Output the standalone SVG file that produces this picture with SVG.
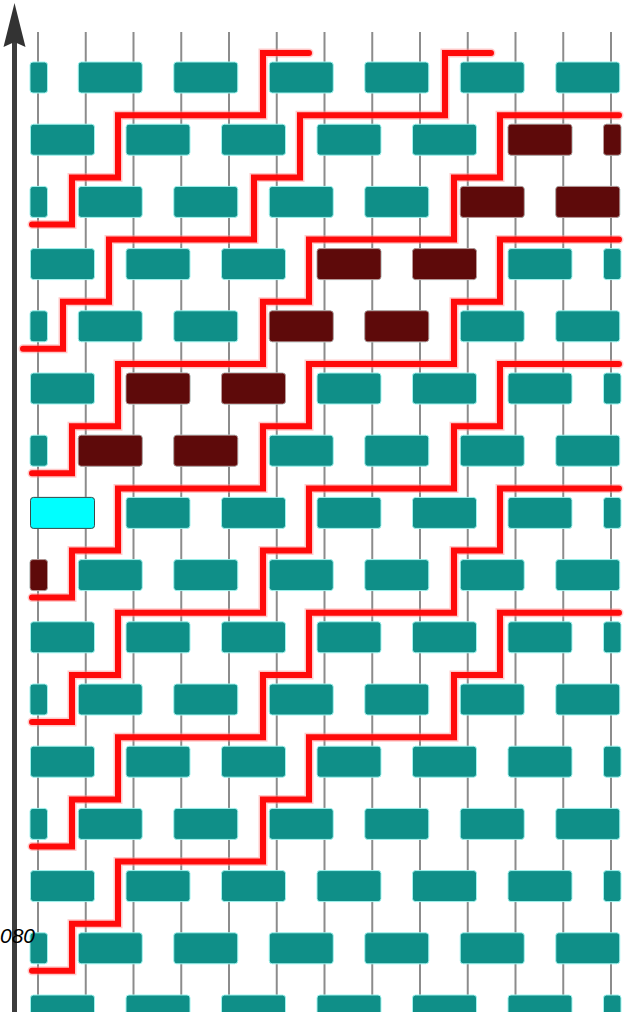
<svg xmlns="http://www.w3.org/2000/svg" xmlns:xlink="http://www.w3.org/1999/xlink" width="624" height="1012" viewBox="0 0 624 1012">
<style>
.grid line{stroke:#8c8c8c;stroke-width:2}
.t{fill:#0f8f88;stroke:#9ff3ee;stroke-width:1}
.d{fill:#5e0a0a;stroke:#c9a0a0;stroke-width:0.8}
.c{fill:#00ffff;stroke:#3a4a4a;stroke-width:1}
.halo{fill:none;stroke:#ff8a8a;stroke-width:9;stroke-opacity:0.45;stroke-linejoin:miter;stroke-linecap:round}
.red{fill:none;stroke:#ff0a0a;stroke-width:6;stroke-linejoin:miter;stroke-linecap:round}
.lbl{font-family:"Liberation Sans",Arial,sans-serif;font-style:italic;font-size:21px;fill:#000}
</style>
<defs>
<rect id="L" width="64" height="31" rx="3"/>
<rect id="S" width="17.5" height="31" rx="3"/>
<g id="even" class="t">
<use xlink:href="#S" x="30"/>
<use xlink:href="#L" x="78.25"/>
<use xlink:href="#L" x="173.75"/>
<use xlink:href="#L" x="269.25"/>
<use xlink:href="#L" x="364.75"/>
<use xlink:href="#L" x="460.25"/>
<use xlink:href="#L" x="555.75"/>
</g>
<g id="odd" class="t">
<use xlink:href="#L" x="30.5"/>
<use xlink:href="#L" x="126"/>
<use xlink:href="#L" x="221.5"/>
<use xlink:href="#L" x="317"/>
<use xlink:href="#L" x="412.5"/>
<use xlink:href="#L" x="508"/>
<use xlink:href="#S" x="603.5"/>
</g>
</defs>
<rect width="624" height="1012" fill="#fff"/>
<g id="grid" class="grid">
<line x1="38" y1="32" x2="38" y2="1012"/>
<line x1="85.75" y1="32" x2="85.75" y2="1012"/>
<line x1="133.5" y1="32" x2="133.5" y2="1012"/>
<line x1="181.25" y1="32" x2="181.25" y2="1012"/>
<line x1="229" y1="32" x2="229" y2="1012"/>
<line x1="276.75" y1="32" x2="276.75" y2="1012"/>
<line x1="324.5" y1="32" x2="324.5" y2="1012"/>
<line x1="372.25" y1="32" x2="372.25" y2="1012"/>
<line x1="420" y1="32" x2="420" y2="1012"/>
<line x1="467.75" y1="32" x2="467.75" y2="1012"/>
<line x1="515.5" y1="32" x2="515.5" y2="1012"/>
<line x1="563.25" y1="32" x2="563.25" y2="1012"/>
<line x1="611" y1="32" x2="611" y2="1012"/>
</g>
<g id="bricks">
<use xlink:href="#even" y="62"/>
<use xlink:href="#odd" y="124.2"/>
<use xlink:href="#even" y="186.4"/>
<use xlink:href="#odd" y="248.6"/>
<use xlink:href="#even" y="310.8"/>
<use xlink:href="#odd" y="373"/>
<use xlink:href="#even" y="435.2"/>
<use xlink:href="#odd" y="497.4"/>
<use xlink:href="#even" y="559.6"/>
<use xlink:href="#odd" y="621.8"/>
<use xlink:href="#even" y="684"/>
<use xlink:href="#odd" y="746.2"/>
<use xlink:href="#even" y="808.4"/>
<use xlink:href="#odd" y="870.6"/>
<use xlink:href="#even" y="932.8"/>
<use xlink:href="#odd" y="995"/>
</g>
<g id="marked" class="d">
<use xlink:href="#L" x="508" y="124.2"/>
<use xlink:href="#S" x="603.5" y="124.2"/>
<use xlink:href="#L" x="460.25" y="186.4"/>
<use xlink:href="#L" x="555.75" y="186.4"/>
<use xlink:href="#L" x="317" y="248.6"/>
<use xlink:href="#L" x="412.5" y="248.6"/>
<use xlink:href="#L" x="269.25" y="310.8"/>
<use xlink:href="#L" x="364.75" y="310.8"/>
<use xlink:href="#L" x="126" y="373"/>
<use xlink:href="#L" x="221.5" y="373"/>
<use xlink:href="#L" x="78.25" y="435.2"/>
<use xlink:href="#L" x="173.75" y="435.2"/>
<use xlink:href="#S" x="30" y="559.6"/>
</g>
<g id="current">
<use xlink:href="#L" x="30.5" y="497.4" class="c"/>
</g>
<g id="connectors">
<g class="halo">
<polyline points="32,224.4 72,224.4 72,177.4 118,177.4 118,115.2 263,115.2 263,53 309,53"/>
<polyline points="23,348.8 63,348.8 63,301.8 109,301.8 109,239.6 254,239.6 254,177.4 300,177.4 300,115.2 445,115.2 445,53 491,53"/>
<polyline points="32,473.2 72,473.2 72,426.2 118,426.2 118,364 263,364 263,301.8 309,301.8 309,239.6 454,239.6 454,177.4 500,177.4 500,115.2 619,115.2"/>
<polyline points="32,597.6 72,597.6 72,550.6 118,550.6 118,488.4 263,488.4 263,426.2 309,426.2 309,364 454,364 454,301.8 500,301.8 500,239.6 619,239.6"/>
<polyline points="32,722 72,722 72,675 118,675 118,612.8 263,612.8 263,550.6 309,550.6 309,488.4 454,488.4 454,426.2 500,426.2 500,364 619,364"/>
<polyline points="32,846.4 72,846.4 72,799.4 118,799.4 118,737.2 263,737.2 263,675 309,675 309,612.8 454,612.8 454,550.6 500,550.6 500,488.4 619,488.4"/>
<polyline points="32,970.8 72,970.8 72,923.8 118,923.8 118,861.6 263,861.6 263,799.4 309,799.4 309,737.2 454,737.2 454,675 500,675 500,612.8 619,612.8"/>
</g>
<g class="red">
<polyline points="32,224.4 72,224.4 72,177.4 118,177.4 118,115.2 263,115.2 263,53 309,53"/>
<polyline points="23,348.8 63,348.8 63,301.8 109,301.8 109,239.6 254,239.6 254,177.4 300,177.4 300,115.2 445,115.2 445,53 491,53"/>
<polyline points="32,473.2 72,473.2 72,426.2 118,426.2 118,364 263,364 263,301.8 309,301.8 309,239.6 454,239.6 454,177.4 500,177.4 500,115.2 619,115.2"/>
<polyline points="32,597.6 72,597.6 72,550.6 118,550.6 118,488.4 263,488.4 263,426.2 309,426.2 309,364 454,364 454,301.8 500,301.8 500,239.6 619,239.6"/>
<polyline points="32,722 72,722 72,675 118,675 118,612.8 263,612.8 263,550.6 309,550.6 309,488.4 454,488.4 454,426.2 500,426.2 500,364 619,364"/>
<polyline points="32,846.4 72,846.4 72,799.4 118,799.4 118,737.2 263,737.2 263,675 309,675 309,612.8 454,612.8 454,550.6 500,550.6 500,488.4 619,488.4"/>
<polyline points="32,970.8 72,970.8 72,923.8 118,923.8 118,861.6 263,861.6 263,799.4 309,799.4 309,737.2 454,737.2 454,675 500,675 500,612.8 619,612.8"/>
</g>
</g>
<g id="axis">
<line x1="14.5" y1="40" x2="14.5" y2="1012" stroke="#3c3c3c" stroke-width="5"/>
<polygon points="14.5,3 25.5,47 14.5,42 3.5,47" fill="#333"/>
</g>
<g id="label">
<text class="lbl" x="0" y="943">080</text>
</g>
</svg>
